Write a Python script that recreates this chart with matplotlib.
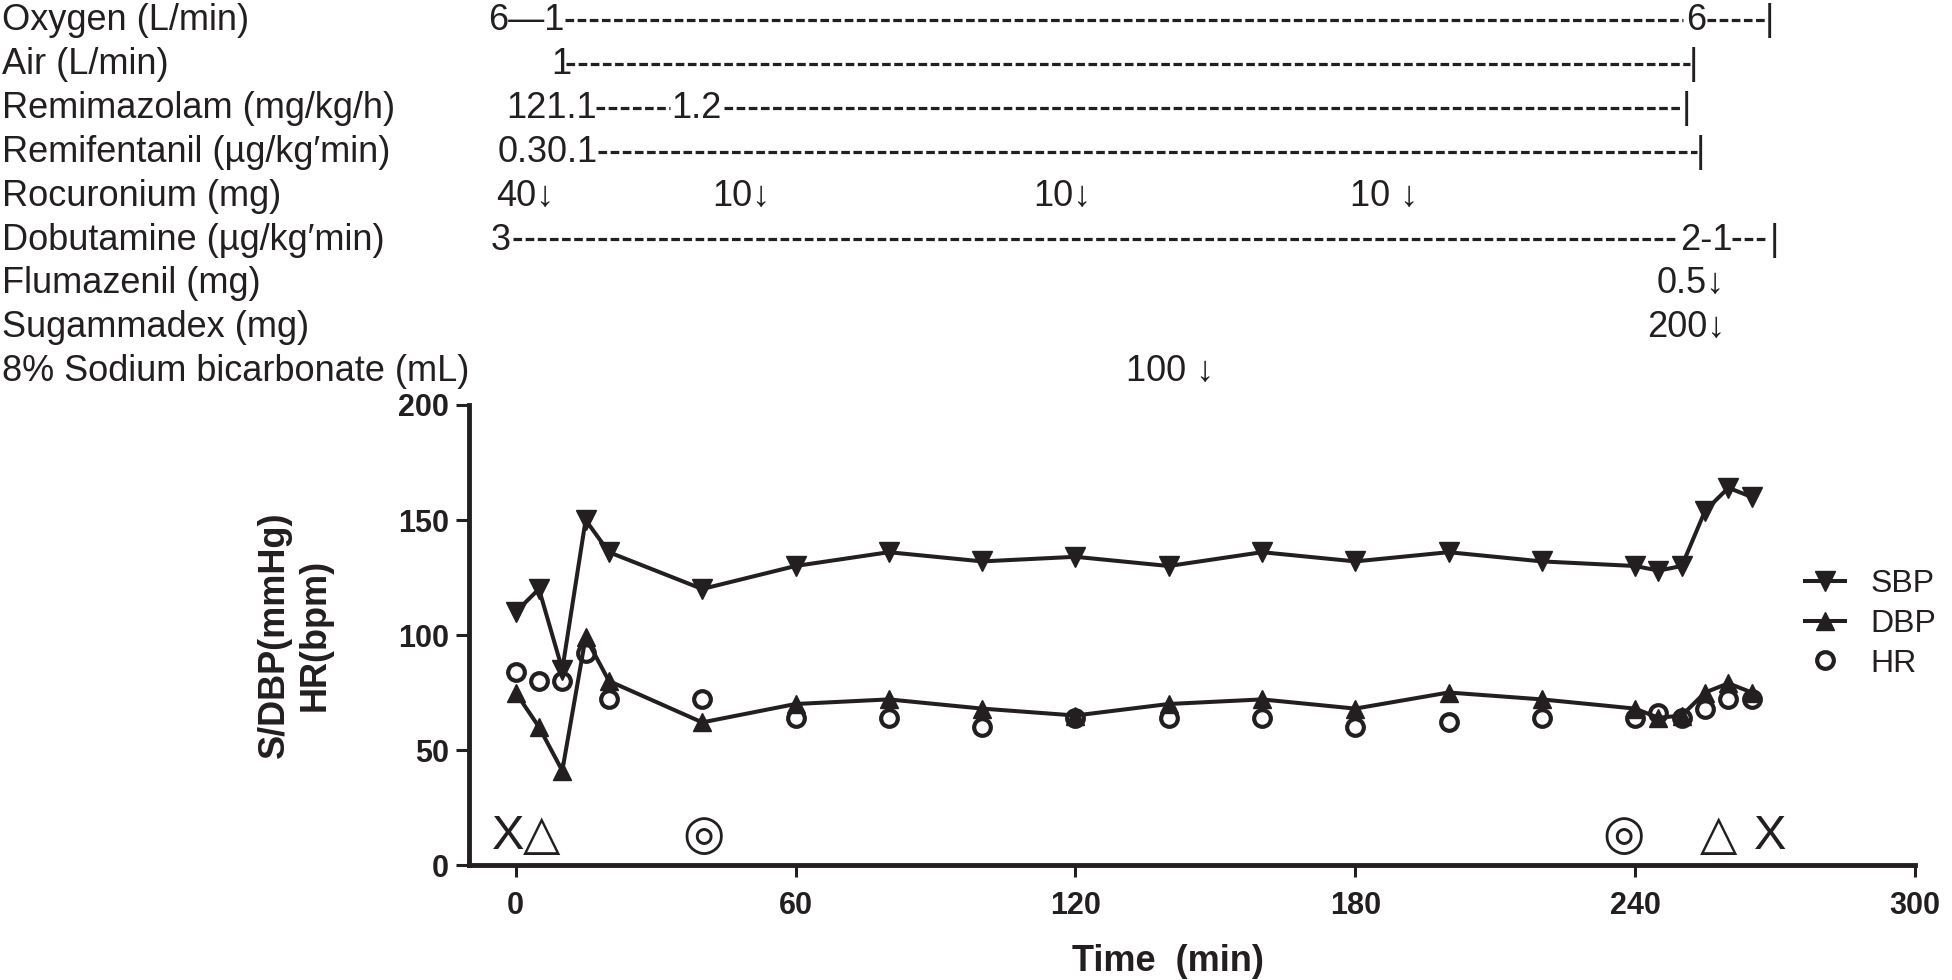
import matplotlib.pyplot as plt
from matplotlib.lines import Line2D
from matplotlib.transforms import blended_transform_factory

plt.rcParams['font.family'] = ['Liberation Sans', 'DejaVu Sans']
INK = '#231f20'

# vital signs
time = [0, 5, 10, 15, 20, 40, 60, 80, 100, 120, 140, 160, 180, 200, 220,
        240, 245, 250, 255, 260, 265]
sbp = [110, 120, 85, 150, 136, 120, 130, 136, 132, 134, 130, 136, 132, 136, 132,
       130, 128, 130, 154, 164, 160]
dbp = [75, 60, 41, 99, 80, 62, 70, 72, 68, 65, 70, 72, 68, 75, 72,
       68, 64, 65, 75, 79, 75]
hr = [84, 80, 80, 92, 72, 72, 64, 64, 60, 64, 64, 64, 60, 62, 64,
      64, 66, 64, 68, 72, 72]

# event symbols along the bottom of the plot
event_times = [-1.7, 5.6, 40.3, 237.6, 257.8, 268.9]
event_symbols = ["X", "△", "◎", "◎", "△", "X"]

# drug / gas protocol rows
drug_labels = ["Oxygen (L/min)", "Air (L/min)", "Remimazolam (mg/kg/h)",
               "Remifentanil (µg/kg′min)", "Rocuronium (mg)",
               "Dobutamine (µg/kg′min)", "Flumazenil (mg)", "Sugammadex (mg)",
               "8% Sodium bicarbonate (mL)"]
# (row, time, text, alignment)
drug_texts = [(0, -5.8, "6—1", "left"), (0, 250.9, "6", "left"),
              (1, 7.7, "1", "left"),
              (2, -2.1, "121.1", "left"), (2, 33.4, "1.2", "left"),
              (3, -3.9, "0.30.1", "left"),
              (4, 8.4, "40↓", "right"), (4, 54.6, "10↓", "right"),
              (4, 123.4, "10↓", "right"), (4, 193.5, "10 ↓", "right"),
              (5, -5.4, "3", "left"), (5, 249.6, "2-1", "left"),
              (6, 259.3, "0.5↓", "right"),
              (7, 259.3, "200↓", "right"),
              (8, 149.8, "100 ↓", "right")]
# (row, start, end) of the dashed runs
drug_dashes = [(0, 10.5, 250.3), (0, 255.4, 267.9),
               (1, 10.7, 251.8),
               (2, 17.3, 33.0), (2, 44.6, 250.3),
               (3, 17.6, 253.3),
               (5, -0.6, 249.2), (5, 260.8, 268.5)]
# (row, time) of the end bars
drug_stops = [(0, 268.9), (1, 252.6), (2, 250.9), (3, 254.1), (5, 269.8)]

W, H = 1952, 980
fig = plt.figure(figsize=(W / 100, H / 100), dpi=100)
ax = fig.add_axes([469 / W, 1 - 865 / H, (1915 - 469) / W, (865 - 405) / H])

ax.plot(time, sbp, color=INK, lw=2.9, marker='v', ms=15, label='SBP')
ax.plot(time, dbp, color=INK, lw=2.9, marker='^', ms=13, label='DBP')
ax.plot(time, hr, color=INK, ls='none', marker='o', ms=12, mew=3,
        mfc='none', mec=INK, label='HR')

for t, s in zip(event_times, event_symbols):
    ax.text(t, 7, s, ha='center', va='baseline', fontsize=35, color=INK)

ax.set_xlim(-10, 300)
ax.set_ylim(0, 200)
ax.set_xticks([0, 60, 120, 180, 240, 300])
ax.set_yticks([0, 50, 100, 150, 200])
for side in ['top', 'right']:
    ax.spines[side].set_visible(False)
for side in ['left', 'bottom']:
    ax.spines[side].set_linewidth(3.5)
    ax.spines[side].set_color(INK)
ax.tick_params(axis='x', length=8.5, width=2.2, pad=10, labelsize=22, colors=INK)
ax.tick_params(axis='y', length=9.5, width=2.2, pad=5, labelsize=22, colors=INK)
for lab in ax.get_xticklabels() + ax.get_yticklabels():
    lab.set_fontweight('bold')

ax.set_xlabel("Time  (min)", fontsize=26, fontweight='bold', color=INK)
ax.xaxis.set_label_coords(0.4834, -0.171)
fig.text(295 / W, 1 - 635 / H, "S/DBP(mmHg)\nHR(bpm)", rotation=90,
         ha='center', va='center', multialignment='center',
         fontsize=26, fontweight='bold', color=INK)

ax.legend(loc='center left', bbox_to_anchor=(1805 / W, 1 - 624 / H),
          bbox_transform=fig.transFigure, frameon=False, fontsize=23,
          handlelength=1.25, handletextpad=0.8, labelspacing=0.3,
          borderpad=0, borderaxespad=0, labelcolor=INK)

# protocol rows above the plot
trans = blended_transform_factory(ax.transData, fig.transFigure)


def row_y(row, lift=0):
    return 1 - (30 + 43.9 * row - lift) / H


for i, label in enumerate(drug_labels):
    fig.text(2 / W, row_y(i), label, ha='left', va='baseline',
             fontsize=26, color=INK)
for row, t, s, ha in drug_texts:
    fig.text(t, row_y(row), s, ha=ha, va='baseline', fontsize=26,
             color=INK, transform=trans)
for row, t0, t1 in drug_dashes:
    fig.add_artist(Line2D([t0, t1], [row_y(row, 10)] * 2, transform=trans,
                          color=INK, lw=2.3, ls=(0, (2.7, 1.1))))
for row, t in drug_stops:
    fig.text(t, row_y(row), "|", ha='center', va='baseline', fontsize=26,
             color=INK, transform=trans)

fig.savefig("out.png", dpi=100)
